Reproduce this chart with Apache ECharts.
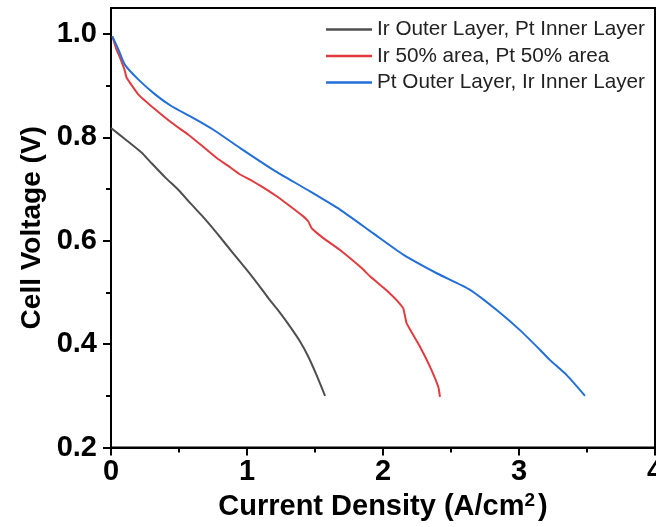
<!DOCTYPE html>
<html>
<head>
<meta charset="utf-8">
<script src="https://cdn.jsdelivr.net/npm/echarts@6/dist/echarts.min.js"></script>
<style>
  html, body { margin: 0; padding: 0; background: #fff; }
  #chart { width: 656px; height: 527px; }
</style>
</head>
<body>
<div id="chart"></div>
<script>
// Polarization curves: cell voltage vs. current density, three catalyst layouts
const seriesNames = [
  'Ir Outer Layer, Pt Inner Layer',
  'Ir 50% area, Pt 50% area',
  'Pt Outer Layer, Ir Inner Layer'
];

// [current density (A/cm2), cell voltage (V)]
const irOuterPtInner = [
  [0.0, 0.818], [0.1, 0.797], [0.226, 0.770], [0.287, 0.753], [0.4, 0.722],
  [0.5, 0.697], [0.581, 0.673], [0.68, 0.645], [0.777, 0.615], [0.9, 0.575],
  [1.0, 0.543], [1.08, 0.516], [1.157, 0.489], [1.218, 0.469], [1.3, 0.440],
  [1.39, 0.405], [1.45, 0.376], [1.51, 0.341], [1.574, 0.300]
];
const irPtHalfArea = [
  [0.01, 0.995], [0.04, 0.970], [0.066, 0.954], [0.1, 0.930], [0.115, 0.915],
  [0.2, 0.883], [0.324, 0.854], [0.446, 0.828], [0.569, 0.805], [0.667, 0.784],
  [0.777, 0.760], [0.875, 0.742], [0.949, 0.728], [1.022, 0.718], [1.1, 0.706],
  [1.218, 0.686], [1.3, 0.670], [1.414, 0.647], [1.451, 0.637], [1.476, 0.624],
  [1.561, 0.605], [1.684, 0.582], [1.843, 0.547], [1.904, 0.531], [2.0, 0.510],
  [2.051, 0.498], [2.1, 0.485], [2.149, 0.469], [2.174, 0.440], [2.272, 0.395],
  [2.346, 0.356], [2.407, 0.317], [2.419, 0.298]
];
const ptOuterIrInner = [
  [0.01, 0.995], [0.054, 0.970], [0.103, 0.940], [0.2, 0.912], [0.324, 0.883],
  [0.446, 0.860], [0.6, 0.838], [0.75, 0.815], [0.95, 0.779], [1.193, 0.737],
  [1.439, 0.699], [1.684, 0.660], [1.929, 0.614], [2.149, 0.573], [2.395, 0.537],
  [2.64, 0.505], [2.836, 0.466], [3.007, 0.427], [3.154, 0.389], [3.228, 0.369],
  [3.351, 0.340], [3.485, 0.300]
];

const xMajorTicks = [0, 1, 2, 3, 4];
const xMinorTicks = [0.5, 1.5, 2.5, 3.5];
const yMajorTicks = [0.2, 0.4, 0.6, 0.8, 1.0];
const yMinorTicks = [0.3, 0.5, 0.7, 0.9];

const colors = ['#4f4f4f', '#e23b3f', '#226fd9'];
const font = 'Liberation Sans, Arial, sans-serif';

const chart = echarts.init(document.getElementById('chart'), null, { renderer: 'canvas' });

const axisLine = { show: true, onZero: false, lineStyle: { color: '#000', width: 2 } };

chart.setOption({
  animation: false,
  backgroundColor: '#fff',
  color: colors,
  grid: {
    left: 111, right: 1, top: 8, bottom: 79.5,
    outerBoundsMode: 'none', containLabel: false,
    show: true, borderColor: '#000', borderWidth: 2, backgroundColor: 'transparent'
  },
  legend: {
    orient: 'vertical',
    left: 326, top: 19,
    icon: 'rect',
    itemWidth: 46, itemHeight: 2.5, itemGap: 5.5,
    padding: 0,
    textStyle: { fontFamily: font, fontSize: 20.7, color: '#222', lineHeight: 20 },
    data: seriesNames
  },
  xAxis: [
    {
      type: 'value', min: 0, max: 4, interval: 1,
      position: 'bottom',
      axisLine,
      splitLine: { show: false },
      axisTick: { show: true, inside: false, length: 8, lineStyle: { color: '#000', width: 2 }, customValues: xMajorTicks },
      axisLabel: {
        margin: 10, color: '#000', fontFamily: font, fontWeight: 'bold', fontSize: 29,
        customValues: xMajorTicks, formatter: v => String(v)
      },
      name: 'Current Density (A/cm{sup|2})',
      nameLocation: 'middle', nameGap: 44,
      nameTextStyle: {
        color: '#000', fontFamily: font, fontWeight: 'bold', fontSize: 29,
        rich: { sup: { fontFamily: font, fontWeight: 'bold', fontSize: 19, verticalAlign: 'top', padding: [0, 3, 12, 0], color: '#000' } }
      }
    },
    {
      type: 'value', min: 0, max: 4, position: 'bottom', offset: 0,
      axisLine: { show: false },
      splitLine: { show: false },
      axisTick: { show: true, inside: false, length: 5, lineStyle: { color: '#000', width: 2 }, customValues: xMinorTicks },
      axisLabel: { show: false }
    }
  ],
  yAxis: [
    {
      type: 'value', min: 0.2, max: 1.05,
      position: 'left',
      axisLine,
      splitLine: { show: false },
      axisTick: { show: true, inside: false, length: 8, lineStyle: { color: '#000', width: 2 }, customValues: yMajorTicks },
      axisLabel: {
        margin: 14, color: '#000', fontFamily: font, fontWeight: 'bold', fontSize: 29,
        customValues: yMajorTicks, formatter: v => v.toFixed(1)
      },
      name: 'Cell Voltage (V)',
      nameLocation: 'middle', nameGap: 62, nameRotate: 90,
      nameTextStyle: { color: '#000', fontFamily: font, fontWeight: 'bold', fontSize: 28 }
    },
    {
      type: 'value', min: 0.2, max: 1.05, position: 'left', offset: 0,
      axisLine: { show: false },
      splitLine: { show: false },
      axisTick: { show: true, inside: false, length: 5, lineStyle: { color: '#000', width: 2 }, customValues: yMinorTicks },
      axisLabel: { show: false }
    }
  ],
  series: [
    { name: seriesNames[0], type: 'line', data: irOuterPtInner, showSymbol: false, symbol: 'none', smooth: 0.2, lineStyle: { width: 2, color: colors[0] } },
    { name: seriesNames[1], type: 'line', data: irPtHalfArea, showSymbol: false, symbol: 'none', smooth: 0.1, lineStyle: { width: 2, color: colors[1] } },
    { name: seriesNames[2], type: 'line', data: ptOuterIrInner, showSymbol: false, symbol: 'none', smooth: 0.2, lineStyle: { width: 2, color: colors[2] } }
  ]
});
</script>
</body>
</html>
